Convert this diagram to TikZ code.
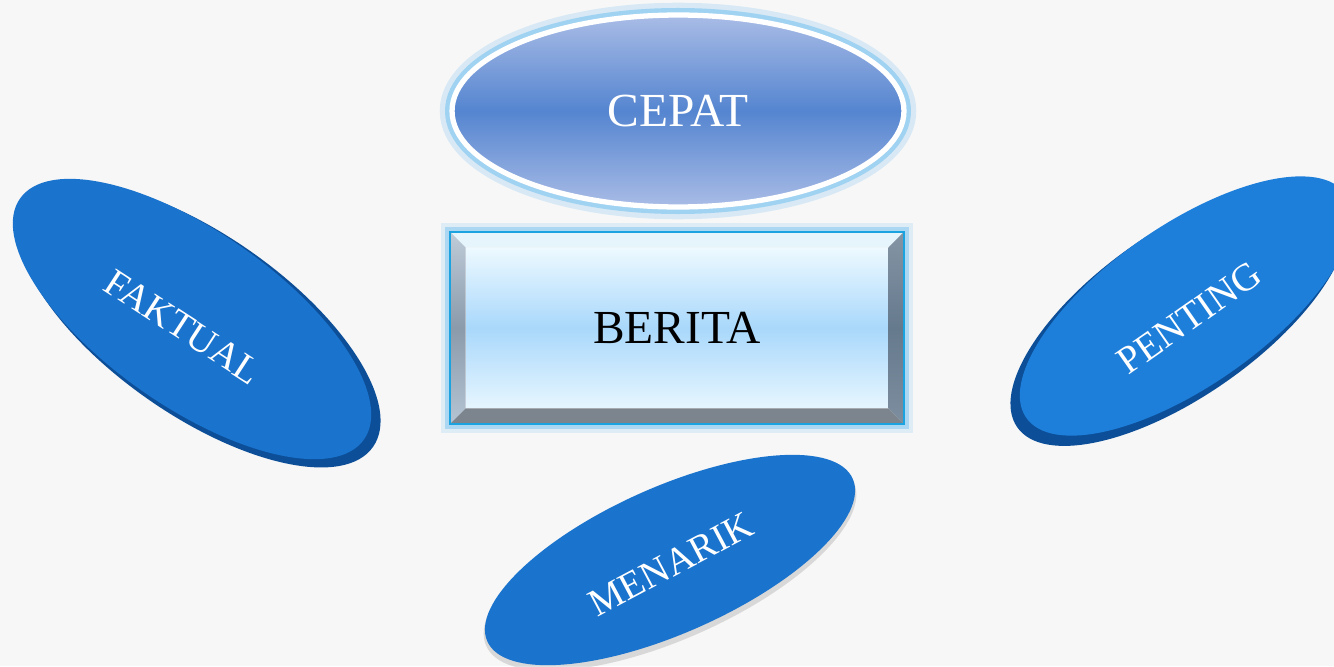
\documentclass[tikz,border=0pt]{standalone}
\usepackage{fontspec}
\setmainfont{Liberation Serif}
\usetikzlibrary{shapes.geometric}
\usetikzlibrary{calc}
\definecolor{bg}{HTML}{F7F7F7}
\definecolor{diskblue}{HTML}{1A73CD}
\definecolor{diskblue2}{HTML}{1E7FDB}
\definecolor{rimblue}{HTML}{0C4F98}
\definecolor{cepatmid}{HTML}{5585D0}
\definecolor{cepattop}{HTML}{A9BCE6}
\definecolor{glow}{HTML}{7CC3F0}
\definecolor{facetop}{HTML}{EDF9FF}
\definecolor{facemid}{HTML}{A9D8FB}
\definecolor{bevtop}{HTML}{E6F5FC}
\definecolor{bevleft}{HTML}{A3B6C9}
\definecolor{bevright}{HTML}{667A8E}
\definecolor{bevbot}{HTML}{7C858E}
\definecolor{frame}{HTML}{1AA3DF}
\tikzset{disk/.style={ellipse,inner sep=0pt,fill=diskblue}}
\tikzset{rim/.style={ellipse,inner sep=0pt,fill=rimblue}}
\tikzset{lbl/.style={text=white,font=\fontsize{22}{22}\selectfont}}
\tikzset{big/.style={font=\fontsize{27}{27}\selectfont}}

\begin{document}
\begin{tikzpicture}[x=0.02cm,y=-0.02cm]
        \fill[bg] (0,0) rectangle (1334,666);
        \useasboundingbox (0,0) rectangle (1334,666);
        \begin{scope}
          \clip (0,0) rectangle (1334,666);
          % FAKTUAL
          \node[rim,minimum width=8.5cm,minimum height=3.6cm,rotate=-35] (faktualrim) at (199,325) {};
          \node[disk,minimum width=8.4cm,minimum height=3.5cm,rotate=-35] (faktual) at (192,319) {};
          \node[lbl,rotate=-33] (faktualtext) at (183,327) {FAKTUAL};
          % PENTING
          \node[rim,minimum width=7.9cm,minimum height=3.3cm,rotate=35] (pentingrim) at (1179,314) {};
          \node[disk,fill=diskblue2,minimum width=7.8cm,minimum height=3.2cm,rotate=35] (penting) at (1186,306) {};
          \node[lbl,rotate=35] (pentingtext) at (1189,318) {PENTING};
          % MENARIK
          \node[disk,fill=black,opacity=0.12,minimum width=8.05cm,minimum height=3cm,rotate=24] (menarikshadow) at (670,564) {};
          \node[disk,minimum width=8cm,minimum height=2.92cm,rotate=24] (menarik) at (670,560) {};
          \node[lbl,rotate=28] (menariktext) at (671,564) {MENARIK};
          % CEPAT
          \node[ellipse,draw=glow,line width=14pt,opacity=0.25,minimum width=9.04cm,minimum height=3.84cm] (cepatglowa) at (678,111) {};
          \node[ellipse,draw=glow,line width=8pt,opacity=0.6,minimum width=9.04cm,minimum height=3.84cm] (cepatglowb) at (678,111) {};
          \node[ellipse,big,text=white,top color=cepattop,bottom color=cepattop,middle color=cepatmid,
            draw=white,line width=3pt,minimum width=9.04cm,minimum height=3.84cm] (cepat) at (678,111) {CEPAT};
          % BERITA
          \node[big,top color=facetop,bottom color=facetop!90!facemid,middle color=facemid,
            minimum width=8.44cm,minimum height=3.2cm,inner sep=0pt] (berita) at (677,328) {BERITA};
          \coordinate (onw) at ($(berita.north west)+(-16,-16)$);
          \coordinate (one) at ($(berita.north east)+(16,-16)$);
          \coordinate (ose) at ($(berita.south east)+(16,16)$);
          \coordinate (osw) at ($(berita.south west)+(-16,16)$);
          \draw[glow,line width=10pt,opacity=0.2] (onw) rectangle (ose);
          \draw[glow,line width=5pt,opacity=0.5] (onw) rectangle (ose);
          \fill[bevtop] (onw) -- (one) -- (berita.north east) -- (berita.north west) -- cycle;
          \shade[top color=bevleft!70!white,bottom color=bevleft!80!white,middle color=bevleft!85!black]
            (onw) -- (berita.north west) -- (berita.south west) -- (osw) -- cycle;
          \shade[top color=bevright!80!white,bottom color=bevright!85!white,middle color=bevright]
            (one) -- (ose) -- (berita.south east) -- (berita.north east) -- cycle;
          \fill[bevbot] (osw) -- (berita.south west) -- (berita.south east) -- (ose) -- cycle;
          \draw[frame,line width=1.2pt] (onw) rectangle (ose);
        \end{scope}
      \end{tikzpicture}
\end{document}
